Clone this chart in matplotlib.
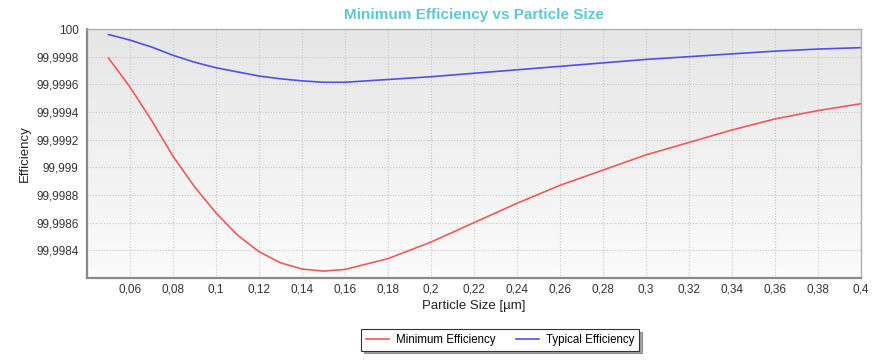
import matplotlib
matplotlib.use("Agg")
import matplotlib.pyplot as plt
import matplotlib.ticker as mticker
import numpy as np

plt.rcParams['font.family'] = ['Liberation Sans', 'DejaVu Sans']

# values
particle_size = [0.05, 0.06, 0.07, 0.08, 0.09, 0.10, 0.11, 0.12, 0.13, 0.14, 0.15,
                 0.16, 0.18, 0.20, 0.22, 0.24, 0.26, 0.28, 0.30, 0.32, 0.34,
                 0.36, 0.38, 0.40]
min_eff = [99.99979, 99.99958, 99.99934, 99.99908, 99.99886, 99.99867, 99.99851,
           99.99839, 99.99831, 99.998265, 99.99825, 99.998262, 99.99834, 99.99846,
           99.99860, 99.99874, 99.99887, 99.99898, 99.99909, 99.99918, 99.99927,
           99.99935, 99.99941, 99.99946]
typ_eff = [99.99996, 99.99992, 99.99987, 99.99981, 99.99976, 99.99972, 99.99969,
           99.99966, 99.99964, 99.999625, 99.999615, 99.999615, 99.999635, 99.999655,
           99.99968, 99.999705, 99.99973, 99.999755, 99.99978, 99.99980, 99.99982,
           99.99984, 99.999855, 99.999865]
x_ticks = [0.06, 0.08, 0.10, 0.12, 0.14, 0.16, 0.18, 0.20, 0.22, 0.24, 0.26,
           0.28, 0.30, 0.32, 0.34, 0.36, 0.38, 0.40]
y_ticks = [99.9984, 99.9986, 99.9988, 99.999, 99.9992, 99.9994, 99.9996, 99.9998, 100.0]

fig = plt.figure(figsize=(8.84, 3.62), dpi=100)
ax = fig.add_axes([87 / 884, 1 - 278 / 362, (861 - 87) / 884, (278 - 29) / 362])

# grey-to-white gradient background
grad = np.linspace(0, 1, 256).reshape(-1, 1)
ax.imshow(grad, extent=[0, 1, 0, 1], transform=ax.transAxes, aspect='auto',
          cmap=matplotlib.colors.LinearSegmentedColormap.from_list('bg', ['#fbfbfb', '#e6e6e6']),
          origin='lower', zorder=0)

ax.plot(particle_size, min_eff, color='#f05a5a', lw=1.2, label='Minimum Efficiency', zorder=3)
ax.plot(particle_size, typ_eff, color='#5050ee', lw=1.2, label='Typical Efficiency', zorder=3)

ax.set_xlim(0.04, 0.40)
ax.set_ylim(99.9982, 100.0)
ax.set_xticks(x_ticks)
ax.set_yticks(y_ticks)

def comma_fmt(v, pos):
    s = ('%.4f' % v).rstrip('0').rstrip('.')
    return s.replace('.', ',')

ax.xaxis.set_major_formatter(mticker.FuncFormatter(comma_fmt))
ax.yaxis.set_major_formatter(mticker.FuncFormatter(comma_fmt))
ax.tick_params(length=0, labelsize=8.5, colors='#333333')
ax.tick_params(axis='y', pad=6)
ax.tick_params(axis='x', pad=4)

ax.grid(True, color='#c8c8c8', linestyle=(0, (1, 1.5)), lw=0.8, zorder=1)
ax.set_axisbelow(True)

for side in ['left', 'bottom']:
    ax.spines[side].set_color('#8a8a8a')
    ax.spines[side].set_linewidth(1.6)
for side in ['top', 'right']:
    ax.spines[side].set_color('#b0b0b0')
    ax.spines[side].set_linewidth(1.0)

ax.set_xlabel('Particle Size [µm]', fontsize=9.5, color='#222222', labelpad=3)
ax.set_ylabel('Efficiency', fontsize=9.5, color='#222222', labelpad=4)
fig.text(474 / 884, 1 - 15 / 362, 'Minimum Efficiency vs Particle Size', ha='center',
         va='center', fontsize=11, fontweight='bold', color='#5cc8d8')

leg = fig.legend(loc='center', bbox_to_anchor=(500 / 884, 1 - 340 / 362), ncol=2,
                 fontsize=8.3, frameon=True, fancybox=False, shadow=True,
                 handlelength=2.0, handletextpad=0.6, columnspacing=1.8, borderpad=0.4)
leg.get_frame().set_edgecolor('#333333')
leg.get_frame().set_linewidth(0.8)

fig.savefig('out.png', dpi=100)
